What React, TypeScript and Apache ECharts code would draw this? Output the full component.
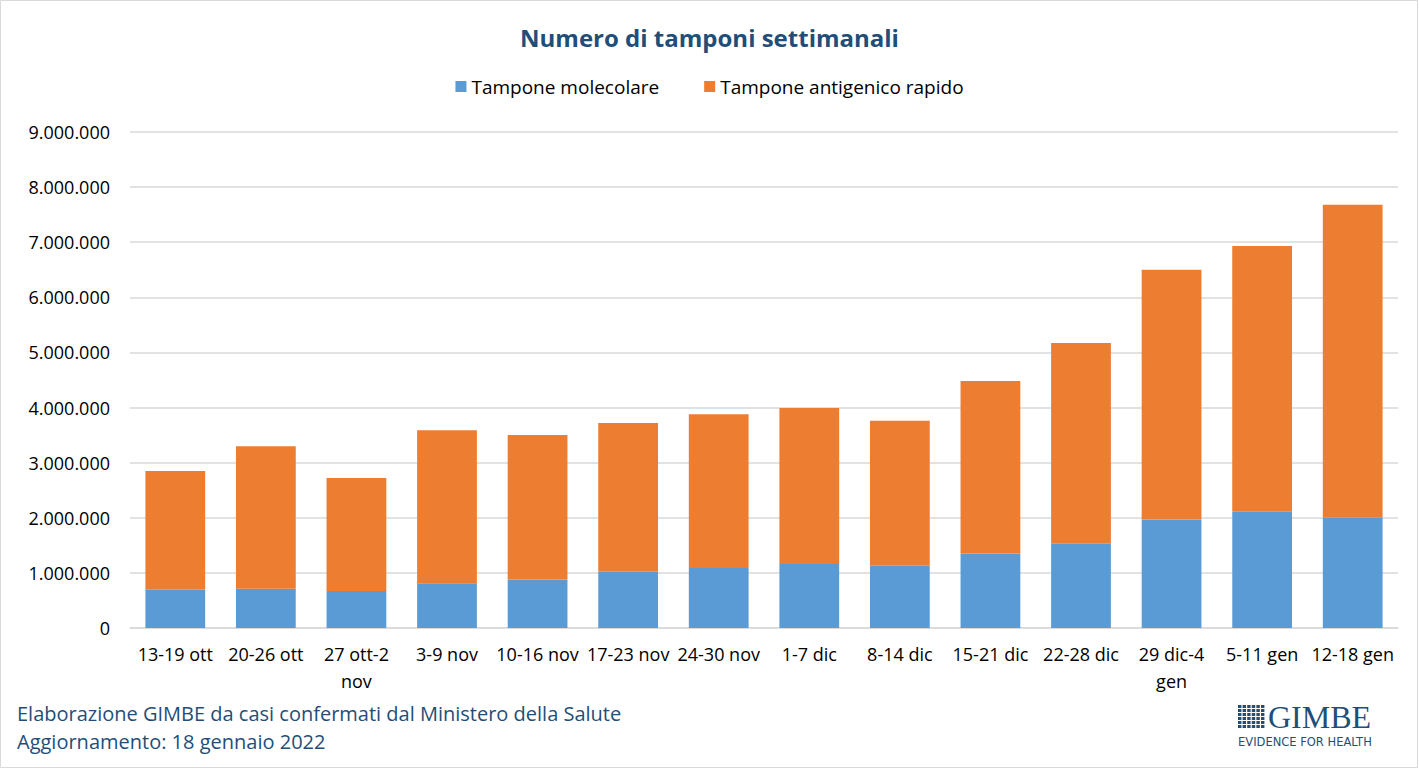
import React, { useEffect, useRef } from "react";
import * as echarts from "echarts";

const categories = [
  "13-19 ott", "20-26 ott", "27 ott-2 nov", "3-9 nov", "10-16 nov", "17-23 nov", "24-30 nov",
  "1-7 dic", "8-14 dic", "15-21 dic", "22-28 dic", "29 dic-4 gen", "5-11 gen", "12-18 gen",
];
const molecolare = [695000, 710000, 670000, 810000, 880000, 1020000, 1090000, 1160000, 1130000, 1350000, 1530000, 1970000, 2110000, 2000000];
const totale = [2850000, 3300000, 2720000, 3590000, 3500000, 3720000, 3880000, 3990000, 3760000, 4480000, 5170000, 6500000, 6930000, 7680000];
const antigenico = totale.map((t, i) => t - molecolare[i]);

const FONT = "'Open Sans', sans-serif";
const NAVY = "#1F4E79";

function fmt(v: number) {
  return String(Math.round(v)).replace(/\B(?=(\d{3})+(?!\d))/g, ".");
}

export default function App() {
  const ref = useRef<HTMLDivElement>(null);
  useEffect(() => {
    document.body.style.margin = "0";
    const chart = echarts.init(ref.current!, null, { renderer: "svg" });
    const logoSquares: any[] = [];
    for (let r = 0; r < 6; r++) {
      for (let c = 0; c < 6; c++) {
        logoSquares.push({
          type: "rect",
          shape: { x: 1238 + c * 4.6, y: 705 + r * 4, width: 3.4, height: 3 },
          style: { fill: NAVY },
        });
      }
    }
    chart.setOption({
      animation: false,
      backgroundColor: "#ffffff",
      title: {
        text: "Numero di tamponi settimanali",
        left: "center",
        top: 20,
        textStyle: { fontFamily: FONT, fontSize: 24, fontWeight: "bold", color: NAVY },
      },
      legend: {
        top: 72,
        left: "center",
        itemWidth: 11,
        itemHeight: 11,
        itemGap: 45,
        icon: "rect",
        textStyle: { fontFamily: FONT, fontSize: 19, color: "#000000" },
        data: ["Tampone molecolare", "Tampone antigenico rapido"],
      },
      grid: { left: 130, right: 21, top: 132, bottom: 141 },
      xAxis: {
        type: "category",
        data: categories,
        axisLine: { lineStyle: { color: "#d9d9d9", width: 1.5 } },
        axisTick: { show: false },
        axisLabel: {
          fontFamily: FONT,
          fontSize: 18,
          color: "#000000",
          margin: 12,
          interval: 0,
          lineHeight: 27,
          formatter: (v: string) => {
            if (v.length > 10) {
              const i = v.lastIndexOf(" ");
              return v.slice(0, i) + "\n" + v.slice(i + 1);
            }
            return v;
          },
        },
      },
      yAxis: {
        type: "value",
        min: 0,
        max: 9000000,
        interval: 1000000,
        splitLine: { lineStyle: { color: "#d9d9d9", width: 1.5 } },
        axisLabel: {
          fontFamily: FONT,
          fontSize: 18,
          color: "#000000",
          margin: 20,
          formatter: (v: number) => fmt(v),
        },
      },
      series: [
        {
          name: "Tampone molecolare",
          type: "bar",
          stack: "tot",
          barWidth: "66%",
          itemStyle: { color: "#5B9BD5" },
          data: molecolare,
        },
        {
          name: "Tampone antigenico rapido",
          type: "bar",
          stack: "tot",
          barWidth: "66%",
          itemStyle: { color: "#ED7D31" },
          data: antigenico,
        },
      ],
      graphic: [
        {
          type: "rect",
          shape: { x: 0.5, y: 0.5, width: 1417, height: 767 },
          style: { fill: "none", stroke: "#d9d9d9", lineWidth: 1 },
          silent: true,
        },
        {
          type: "text",
          x: 17,
          y: 703,
          style: {
            text: "Elaborazione GIMBE da casi confermati dal Ministero della Salute",
            fontFamily: FONT,
            fontSize: 20,
            fill: NAVY,
          },
        },
        {
          type: "text",
          x: 17,
          y: 731,
          style: {
            text: "Aggiornamento: 18 gennaio 2022",
            fontFamily: FONT,
            fontSize: 20,
            fill: NAVY,
          },
        },
        ...logoSquares,
        {
          type: "text",
          x: 1268,
          y: 701,
          style: {
            text: "GIMBE",
            fontFamily: "'Liberation Serif', 'DejaVu Serif', serif",
            fontSize: 32,
            fill: NAVY,
          },
        },
        {
          type: "text",
          x: 1238,
          y: 736,
          style: {
            text: "EVIDENCE FOR HEALTH",
            fontFamily: "'DejaVu Sans', sans-serif",
            fontSize: 11.5,
            fill: NAVY,
          },
        },
      ],
    });
    return () => chart.dispose();
  }, []);
  return <div ref={ref} style={{ width: 1419, height: 769 }} />;
}
